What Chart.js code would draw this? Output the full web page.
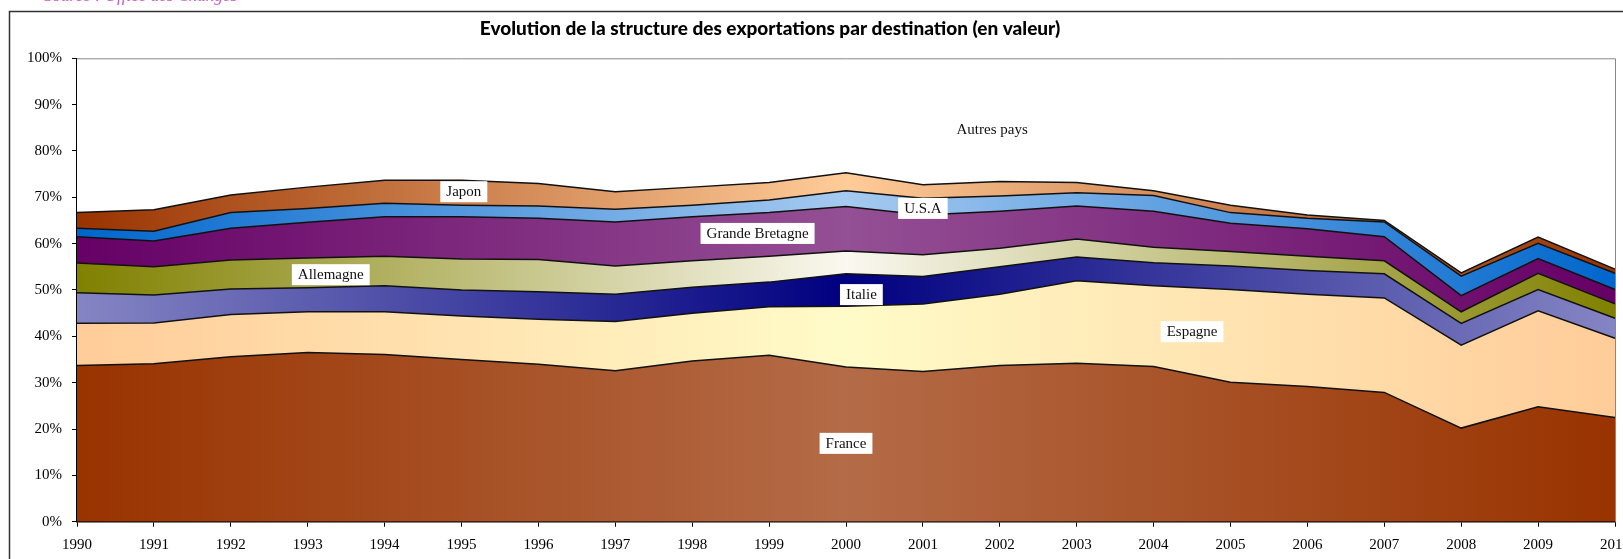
<!DOCTYPE html>
<html>
<head>
<meta charset="utf-8">
<script src="https://cdn.jsdelivr.net/npm/chart.js@4.4.1/dist/chart.umd.min.js"></script>
<style>
  html, body { margin: 0; padding: 0; background: #fff; overflow: hidden; }
  #wrap { position: relative; width: 1623px; height: 559px; }
</style>
</head>
<body>
<div id="wrap"><canvas id="exports-chart"></canvas></div>
<script>
// years on the x axis
const years = ['1990','1991','1992','1993','1994','1995','1996','1997','1998','1999','2000',
               '2001','2002','2003','2004','2005','2006','2007','2008','2009','2010'];

// share of exports by destination, in %
const france     = [33.7,34.1,35.6,36.5,36.1,35.0,34.0,32.6,34.7,35.9,33.4,32.4,33.7,34.2,33.5,30.1,29.2,27.9,20.2,24.8,22.5];
const espagne    = [9.1,8.8,9.1,8.8,9.2,9.4,9.7,10.6,10.3,10.5,13.1,14.6,15.4,17.8,17.4,20.0,19.9,20.4,17.9,20.7,17.1];
const italie     = [6.6,6.0,5.5,5.2,5.6,5.6,5.9,5.9,5.6,5.3,7.0,5.9,5.9,5.1,5.0,5.1,5.1,5.2,4.7,4.6,4.3];
const allemagne  = [6.4,6.1,6.3,6.4,6.4,6.7,7.0,6.1,5.7,5.6,4.9,4.7,4.0,3.9,3.3,3.1,3.1,2.8,2.5,3.5,3.1];
const grandeBret = [5.7,5.6,6.8,7.7,8.5,9.1,8.9,9.5,9.5,9.4,9.6,8.6,8.0,7.1,7.8,6.1,5.9,5.2,3.5,3.2,3.1];
const usa        = [1.8,2.1,3.4,3.0,2.9,2.5,2.6,2.7,2.5,2.7,3.4,3.6,3.3,2.9,3.4,2.3,2.3,3.2,4.2,3.3,3.5];
const japon      = [3.4,4.6,3.8,4.6,5.0,5.4,4.9,3.8,3.9,3.8,3.9,2.9,3.1,2.2,1.0,1.6,0.7,0.3,0.7,1.3,0.9];
const autres     = [33.3,32.7,29.5,27.8,26.3,26.3,27.0,28.8,27.8,26.8,24.7,27.3,26.6,26.8,28.6,31.7,33.8,35.0,46.3,38.6,45.5];

const yTicks = [0,10,20,30,40,50,60,70,80,90,100];

const chartTitle = 'Evolution de la structure des exportations par destination (en valeur)';

// where the series names sit (x = year index, y = %)
const labelSpots = [
  { text: 'France',          at: 10.0, v: 16.8, box: true },
  { text: 'Espagne',         at: 14.5, v: 40.9, box: true },
  { text: 'Italie',          at: 10.2, v: 48.9, box: true },
  { text: 'Allemagne',       at: 3.3,  v: 53.2, box: true },
  { text: 'Grande Bretagne', at: 8.85, v: 62.1, box: true },
  { text: 'U.S.A',           at: 11.0, v: 67.5, box: true },
  { text: 'Japon',           at: 5.03, v: 71.1, box: true },
  { text: 'Autres pays',     at: 11.9, v: 84.5, box: false }
];

const serif = '"Liberation Serif", "Times New Roman", serif';

// horizontal gradient: edge colour -> centre colour -> edge colour
function bandFill(edge, middle) {
  return function(context) {
    const chart = context.chart;
    const area = chart.chartArea;
    if (!area) return edge;
    const g = chart.ctx.createLinearGradient(area.left, 0, area.right, 0);
    g.addColorStop(0, edge);
    g.addColorStop(0.5, middle);
    g.addColorStop(1, edge);
    return g;
  };
}

function band(label, data, edge, middle, fill) {
  return {
    label: label,
    data: data,
    fill: fill,
    backgroundColor: bandFill(edge, middle),
    borderColor: '#111',
    borderWidth: 1.5,
    pointRadius: 0,
    tension: 0
  };
}

// outer frame, source note and title (title is off-centre in the original)
const frame = {
  id: 'frame',
  beforeDraw(chart) {
    const ctx = chart.ctx;
    ctx.save();
    ctx.fillStyle = '#fff';
    ctx.fillRect(0, 0, chart.width, chart.height);
    ctx.font = 'italic 17px ' + serif;
    ctx.fillStyle = '#c45cc4';
    ctx.textAlign = 'right';
    ctx.textBaseline = 'alphabetic';
    ctx.fillText('Source : Office des Changes', 237, 1);
    ctx.strokeStyle = '#333';
    ctx.lineWidth = 1.5;
    ctx.strokeRect(9.5, 11.5, chart.width + 20, chart.height + 20);
    ctx.font = '900 19px Lato, "DejaVu Sans", sans-serif';
    ctx.fillStyle = '#000';
    ctx.textAlign = 'center';
    ctx.textBaseline = 'middle';
    ctx.fillText(chartTitle, 770, 29);
    ctx.restore();
  },
  afterDatasetsDraw(chart) {
    const { ctx, chartArea: a } = chart;
    ctx.save();
    ctx.strokeStyle = '#888';
    ctx.lineWidth = 1;
    ctx.beginPath();
    ctx.moveTo(a.left, a.top + 0.5);
    ctx.lineTo(a.right + 0.5, a.top + 0.5);
    ctx.lineTo(a.right + 0.5, a.bottom);
    ctx.stroke();
    ctx.restore();
  }
};

const areaLabels = {
  id: 'areaLabels',
  afterDatasetsDraw(chart) {
    const { ctx, scales: { x, y } } = chart;
    ctx.save();
    ctx.font = '15px ' + serif;
    ctx.textAlign = 'center';
    ctx.textBaseline = 'middle';
    labelSpots.forEach(function(s) {
      const px = x.getPixelForValue(s.at);
      const py = y.getPixelForValue(s.v);
      const w = ctx.measureText(s.text).width + 12;
      if (s.box) {
        ctx.fillStyle = '#fff';
        ctx.fillRect(px - w / 2, py - 11, w, 21);
      }
      ctx.fillStyle = '#111';
      ctx.fillText(s.text, px, py);
    });
    ctx.restore();
  }
};

const ctx = document.getElementById('exports-chart').getContext('2d');
new Chart(ctx, {
  type: 'line',
  data: {
    labels: years,
    datasets: [
      band('France', france, '#993300', '#b46b47', 'origin'),
      band('Espagne', espagne, '#ffcc99', '#fffbc8', '-1'),
      band('Italie', italie, '#8585c4', '#000080', '-1'),
      band('Allemagne', allemagne, '#808000', '#faf8f0', '-1'),
      band('Grande Bretagne', grandeBret, '#660066', '#945094', '-1'),
      band('U.S.A', usa, '#0066cc', '#a6caf0', '-1'),
      band('Japon', japon, '#993300', '#ffcc99', '-1'),
      {
        label: 'Autres pays',
        data: autres,
        fill: '-1',
        backgroundColor: '#fff',
        borderColor: 'rgba(0,0,0,0)',
        borderWidth: 0,
        pointRadius: 0
      }
    ]
  },
  options: {
    responsive: true,
    maintainAspectRatio: false,
    animation: false,
    layout: { padding: { left: 0, right: 8, top: 58.3, bottom: 0 } },
    plugins: {
      legend: { display: false },
      tooltip: { enabled: false },
      title: { display: false },
      filler: { drawTime: 'beforeDatasetsDraw' }
    },
    scales: {
      x: {
        offset: false,
        grid: { drawOnChartArea: false, drawTicks: true, tickLength: 5, color: '#000' },
        border: { display: true, color: '#000', width: 1.5 },
        ticks: { color: '#000', font: { family: serif, size: 15 }, padding: 9, maxRotation: 0, autoSkip: false },
        afterFit(scale) {
          scale.height = 37.3;
          scale.paddingRight = 0;
          scale.paddingLeft = 0;
        }
      },
      y: {
        stacked: true,
        min: 0,
        max: 100,
        afterBuildTicks(scale) {
          scale.ticks = yTicks.map(v => ({ value: v }));
        },
        grid: { drawOnChartArea: false, drawTicks: true, tickLength: 5, color: '#000' },
        border: { display: true, color: '#000', width: 1.5 },
        ticks: {
          color: '#000',
          font: { family: serif, size: 15 },
          padding: 10,
          callback: v => v + '%'
        },
        afterFit(scale) {
          scale.width = 77;
        }
      }
    }
  },
  plugins: [frame, areaLabels]
});
</script>
</body>
</html>
